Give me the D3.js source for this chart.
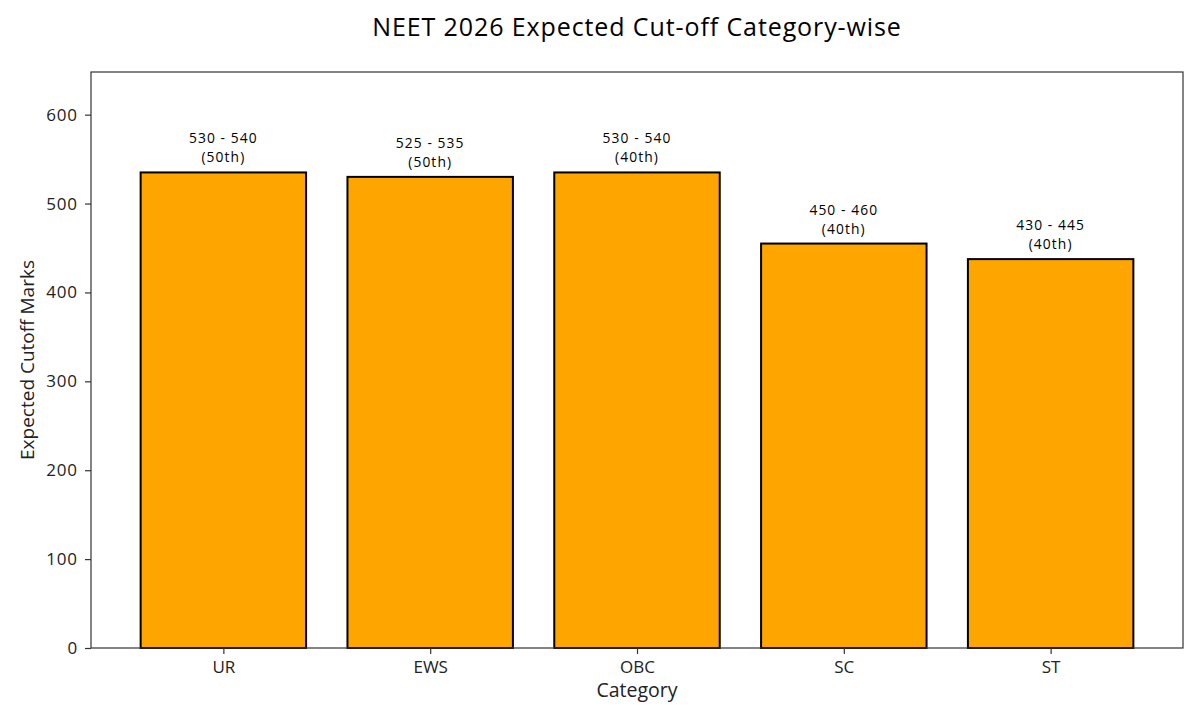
<!DOCTYPE html>
<html>
<head>
<meta charset="utf-8">
<script src="https://cdn.jsdelivr.net/npm/d3@7"></script>
<style>
html,body{margin:0;padding:0;background:#fff;}
svg{display:block;font-family:"Open Sans","Noto Sans",sans-serif;}
</style>
</head>
<body>
<svg id="chart" width="1200" height="720"></svg>
<script>
const categories = ["UR", "EWS", "OBC", "SC", "ST"];
const lowMarks = [530, 525, 530, 450, 430];
const highMarks = [540, 535, 540, 460, 445];
const percentiles = ["50th", "50th", "40th", "40th", "40th"];
const yTicks = [0, 100, 200, 300, 400, 500, 600];

const data = categories.map((c, i) => ({
  cat: c, low: lowMarks[i], high: highMarks[i],
  mid: (lowMarks[i] + highMarks[i]) / 2, pct: percentiles[i]
}));

const svg = d3.select("#chart");
const mLeft = 91, mRight = 1183, mTop = 72, mBottom = 648;

const x = d3.scaleLinear().domain([-0.64, categories.length - 1 + 0.64]).range([mLeft, mRight]);
const yMax = d3.max(highMarks) * 1.2;
const y = d3.scaleLinear().domain([0, yMax]).range([mBottom, mTop]);
const barW = x(0.8) - x(0);

svg.append("text").attr("x", (mLeft + mRight) / 2).attr("y", 36)
  .attr("text-anchor", "middle").attr("font-size", 25).attr("letter-spacing", 0.9).attr("fill", "#000")
  .text("NEET 2026 Expected Cut-off Category-wise");

// bars
svg.selectAll("rect.bar").data(data).enter().append("rect")
  .attr("class", "bar")
  .attr("x", (d, i) => x(i) - barW / 2)
  .attr("y", d => y(d.mid))
  .attr("width", barW)
  .attr("height", d => y(0) - y(d.mid))
  .attr("fill", "#FFA500").attr("stroke", "#000").attr("stroke-width", 2);

// labels (two separate text lines per bar)
const lblAttrs = sel => sel.attr("text-anchor", "middle").attr("font-size", 13.8)
  .attr("letter-spacing", 1.1).attr("fill", "#000");
svg.selectAll("text.lbl1").data(data).enter().append("text").attr("class", "lbl1")
  .call(lblAttrs)
  .attr("x", (d, i) => x(i)).attr("y", d => y(d.mid) - 29)
  .text(d => `${d.low} - ${d.high}`);
svg.selectAll("text.lbl2").data(data).enter().append("text").attr("class", "lbl2")
  .call(lblAttrs)
  .attr("x", (d, i) => x(i)).attr("y", d => y(d.mid) - 10)
  .text(d => `(${d.pct})`);

// axes
const yAxis = d3.axisLeft(y).tickValues(yTicks).tickSize(6).tickPadding(7).tickFormat(d3.format("d"));
const gy = svg.append("g").attr("transform", `translate(${mLeft},0)`).call(yAxis);
const xAxis = d3.axisBottom(x).tickValues(d3.range(categories.length)).tickSize(6).tickPadding(7)
  .tickFormat(i => categories[i]);
const gx = svg.append("g").attr("transform", `translate(0,${mBottom})`).call(xAxis);
[gx, gy].forEach(g => {
  g.select(".domain").remove();
  g.selectAll(".tick line").attr("stroke", "#333").attr("stroke-width", 1.2);
  g.selectAll(".tick text").attr("font-size", 17).attr("fill", "#222")
    .attr("font-family", "'Open Sans','Noto Sans',sans-serif");
});
gy.selectAll(".tick text").attr("letter-spacing", 0.9);

// frame
svg.append("rect").attr("x", mLeft).attr("y", mTop).attr("width", mRight - mLeft).attr("height", mBottom - mTop)
  .attr("fill", "none").attr("stroke", "#333").attr("stroke-width", 1.2);

svg.append("text").attr("x", (mLeft + mRight) / 2).attr("y", 697)
  .attr("text-anchor", "middle").attr("font-size", 19.5).attr("fill", "#222").text("Category");
svg.append("text").attr("transform", `translate(34,${(mTop + mBottom) / 2}) rotate(-90)`)
  .attr("text-anchor", "middle").attr("font-size", 19).attr("fill", "#222").text("Expected Cutoff Marks");
</script>
</body>
</html>
